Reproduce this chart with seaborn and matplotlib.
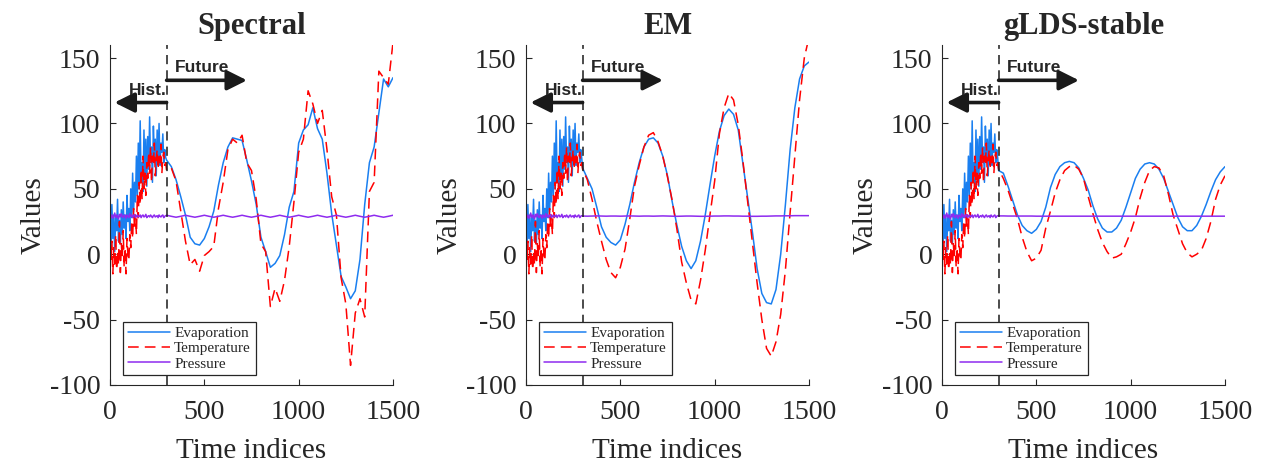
import numpy as np
import pandas as pd
import matplotlib
matplotlib.use("Agg")
import matplotlib.pyplot as plt
import seaborn as sns

# ---------------- data ----------------
panel_titles = ["Spectral", "EM", "gLDS-stable"]
series_names = ["Evaporation", "Temperature", "Pressure"]
x_ticks = [0, 500, 1000, 1500]
y_ticks = [-100, -50, 0, 50, 100, 150]

hist_start, hist_end, hist_step = 0, 295, 5
future_start, future_end, future_step = 300, 1500, 25
split_index = 300

# history (observed, same for every panel), t = 0..295 step 5
evap_hist = [25, 5, 38, 12, 30, 2, 28, 18, 42, 10, 26, 8, 34, 15, 40, 20, 30, 12, 45, 25,
             35, 18, 50, 28, 62, 32, 55, 40, 75, 45, 85, 50, 102, 55, 70, 48, 95, 60, 88, 52,
             90, 65, 105, 70, 82, 55, 98, 75, 88, 60, 95, 72, 100, 68, 85, 78, 92, 70, 80, 74]
temp_hist = [20, -5, 10, -15, 5, -10, 15, -12, 2, -8, 25, -14, 8, -3, 18, -10, 5, -15, 12, 0,
             -5, 15, 5, 25, 12, 35, 20, 30, 15, 45, 28, 55, 38, 65, 42, 75, 50, 62, 45, 70,
             58, 78, 62, 82, 55, 75, 68, 85, 60, 72, 80, 65, 76, 70, 84, 62, 74, 78, 68, 70]
pres_hist = [31, 28, 30, 27.5, 29, 31.5, 28, 30, 29, 27, 30.5, 28.5, 31, 29, 28, 30, 29.5, 27.5, 30, 29,
             28, 31, 29, 30, 28, 29.5, 30.5, 28, 29, 30, 28.5, 29, 30, 28, 29.5, 30, 28.5, 29, 30.5, 28,
             29, 29.5, 28.5, 30, 29, 28, 29.5, 30, 28.5, 29, 29.5, 28, 30, 29, 28.5, 29.5, 30, 28, 29, 29.5]

# forecasts, t = 300..1500 step 25
spectral_evap = [72, 67, 57, 44, 30, 13, 8, 7, 12, 21, 33, 53, 70, 82, 89, 88, 87, 72, 56, 38,
                 13, 2, -10, -7, -1, 15, 36, 48, 85, 95, 99, 112, 96, 88, 62, 31, 7, -17, -25, -34,
                 -28, -4, 38, 70, 82, 108, 134, 128, 135]
spectral_temp = [64, 66, 56, 33, 10, -8, -4, -13, -1, 2, 6, 35, 55, 80, 88, 85, 91, 70, 64, 42,
                 8, 2, -40, -26, -36, -20, 6, 40, 78, 88, 125, 115, 100, 110, 80, 44, 30, -18, -38, -85,
                 -45, -34, -48, 48, 55, 140, 135, 130, 162]
spectral_pres = [29.8, 29.0, 28.3, 29.0, 29.8, 29.0, 28.3, 29.0, 29.8, 29.0, 28.3, 29.0, 29.8, 29.0, 28.3, 29.0,
                 29.8, 29.0, 28.3, 29.0, 29.8, 29.0, 28.3, 29.0, 29.8, 29.0, 28.3, 29.0, 29.8, 29.0, 28.3, 29.0,
                 29.8, 29.0, 28.3, 29.0, 29.8, 29.0, 28.3, 29.0, 29.8, 29.0, 28.3, 29.0, 29.8, 29.0, 28.3, 29.0, 29.8]

em_evap = [66, 58, 50, 36, 21, 13, 9, 7, 11, 23, 38, 55, 70, 82, 88, 89, 85, 75, 60, 40,
           22, 6, -5, -11, -5, 10, 30, 53, 75, 94, 106, 111, 107, 95, 69, 43, 17, -11, -30, -37,
           -38, -27, 0, 38, 80, 112, 134, 144, 147]
em_temp = [65, 57, 42, 25, 10, -4, -14, -18, -10, 4, 27, 52, 68, 82, 91, 93, 86, 75, 59, 41,
           19, -6, -22, -35, -38, -20, 3, 30, 56, 92, 112, 123, 118, 99, 71, 40, 9, -22, -50, -72,
           -78, -67, -46, -12, 32, 75, 118, 150, 166]
em_pres = [29.2, 29.1, 29.2, 29.3, 29.2, 29.1, 29.2, 29.2, 29.1, 29.2, 29.3, 29.2, 29.1, 29.2, 29.2, 29.1,
           29.2, 29.3, 29.2, 29.1, 29.0, 29.1, 29.2, 29.2, 29.1, 29.0, 29.0, 29.1, 29.2, 29.2, 29.3, 29.3,
           29.2, 29.2, 29.1, 29.1, 29.0, 29.0, 29.1, 29.1, 29.2, 29.3, 29.3, 29.4, 29.4, 29.5, 29.5, 29.5, 29.5]

glds_evap = [64, 62, 52, 41, 30, 22, 18, 16, 19, 25, 36, 51, 61, 67, 70, 71, 70, 66, 58, 49,
             37, 27, 20, 17, 17, 20, 26, 36, 47, 58, 65, 69, 70, 69, 65, 58, 48, 38, 28, 21,
             18, 18, 22, 29, 38, 48, 57, 63, 67]
glds_temp = [65, 58, 49, 38, 27, 13, 2, -5, -3, 3, 20, 33, 47, 57, 64, 67, 68, 65, 58, 44,
             31, 19, 9, 2, -3, -2, 0, 8, 17, 28, 43, 55, 64, 67, 66, 60, 46, 30, 19, 8,
             1, -2, 0, 3, 12, 25, 42, 53, 60]
glds_pres = [29.3, 29.3, 29.2, 29.2, 29.2, 29.2, 29.2, 29.2, 29.1, 29.1, 29.1, 29.1, 29.1, 29.1, 29.1, 29.1,
             29.1, 29.1, 29.1, 29.1, 29.1, 29.1, 29.1, 29.1, 29.1, 29.1, 29.1, 29.1, 29.1, 29.1, 29.1, 29.1,
             29.1, 29.1, 29.1, 29.1, 29.1, 29.1, 29.1, 29.1, 29.1, 29.1, 29.1, 29.1, 29.1, 29.1, 29.1, 29.1, 29.1]

forecasts = {
    "Spectral": (spectral_evap, spectral_temp, spectral_pres),
    "EM": (em_evap, em_temp, em_pres),
    "gLDS-stable": (glds_evap, glds_temp, glds_pres),
}

# ---------------- style ----------------
sns.set_theme(style="ticks")
plt.rcParams["font.family"] = ["Liberation Serif", "DejaVu Serif"]
plt.rcParams["axes.unicode_minus"] = False
plt.rcParams["axes.edgecolor"] = "#262626"
plt.rcParams["axes.linewidth"] = 0.8

colors = {"Evaporation": "#1A7FF0", "Temperature": "#FF0000", "Pressure": "#8E2BEF"}

fig = plt.figure(figsize=(12.67, 4.66), dpi=100)
lefts = [110 / 1267, 526 / 1267, 942 / 1267]
width = 283 / 1267
bottom = 1 - 385 / 466
height = 340 / 466

t_hist = np.arange(hist_start, hist_end + 1, hist_step)
t_future = np.arange(future_start, future_end + 1, future_step)
t_all = np.concatenate([t_hist, t_future])

for i, title in enumerate(panel_titles):
    ax = fig.add_axes([lefts[i], bottom, width, height])
    ev, te, pr = forecasts[title]
    df = pd.DataFrame({
        "t": t_all,
        "Evaporation": np.concatenate([evap_hist, ev]),
        "Temperature": np.concatenate([temp_hist, te]),
        "Pressure": np.concatenate([pres_hist, pr]),
    })
    sns.lineplot(data=df, x="t", y="Evaporation", ax=ax, color=colors["Evaporation"],
                 lw=1.1, estimator=None, label="Evaporation")
    sns.lineplot(data=df, x="t", y="Temperature", ax=ax, color=colors["Temperature"],
                 lw=1.1, estimator=None, linestyle=(0, (7, 4)), label="Temperature")
    sns.lineplot(data=df, x="t", y="Pressure", ax=ax, color=colors["Pressure"],
                 lw=1.1, estimator=None, label="Pressure")

    ax.axvline(split_index, color="k", lw=1.1, linestyle=(0, (6, 4)))

    ax.set_xlim(0, 1500)
    ax.set_ylim(-100, 160)
    ax.set_xticks(x_ticks)
    ax.set_yticks(y_ticks)
    ax.tick_params(direction="in", length=4, width=0.8, labelsize=20, colors="#262626",
                   labelcolor="#262626")
    ax.tick_params(axis="x", pad=11)
    ax.tick_params(axis="y", pad=7)
    sns.despine(ax=ax)
    ax.set_xlabel("Time indices", fontsize=21, color="#262626", labelpad=9)
    ax.set_ylabel("Values", fontsize=21, color="#262626", labelpad=2)
    ax.set_title(title, fontsize=22, fontweight="bold", pad=8)

    # annotations
    arrow_kw = dict(arrowstyle="-|>,head_length=0.6,head_width=0.3", lw=2.6, color="k",
                    mutation_scale=20, shrinkA=0, shrinkB=0)
    ax.annotate("", xy=(726, 133), xytext=(split_index, 133), arrowprops=arrow_kw)
    ax.annotate("", xy=(24, 116), xytext=(split_index, 116), arrowprops=arrow_kw)
    ax.text(490, 143, "Future", ha="center", va="center", fontsize=12.5, fontweight="bold",
            family="Liberation Sans")
    ax.text(200, 125, "Hist.", ha="center", va="center", fontsize=12.5, fontweight="bold",
            family="Liberation Sans")

    leg = ax.legend(loc="lower left", bbox_to_anchor=(0.046, 0.029), borderaxespad=0,
                    fontsize=11, frameon=True, fancybox=False, framealpha=1, handlelength=2.8,
                    handletextpad=0.25, labelspacing=0.1, borderpad=0.3)
    leg.get_frame().set_edgecolor("#262626")
    leg.get_frame().set_linewidth(0.9)

fig.savefig("out.png", dpi=100)
